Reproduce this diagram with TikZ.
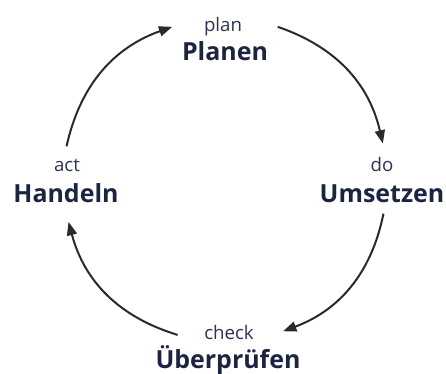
\documentclass[tikz,border=0pt]{standalone}
\usepackage{fontspec}
\setmainfont{Open Sans}
\usepackage{xcolor}
\usepackage{tikz}
\usetikzlibrary{arrows.meta,positioning}

\definecolor{phasecol}{HTML}{1B2440}
\definecolor{subcol}{HTML}{2C3352}
\definecolor{arccol}{HTML}{2A2A2A}

\begin{document}
\begin{tikzpicture}[
    >={Triangle[length=10pt,width=7.5pt]},
    x=0.75pt, y=0.75pt,
    phase/.style={anchor=base,inner sep=0pt,text=phasecol,
                  font=\fontsize{18.7}{20}\selectfont\bfseries},
    sub/.style={anchor=base,inner sep=0pt,text=subcol,
                font=\fontsize{14}{16}\selectfont},
    cycle/.style={->,arccol,line width=1.5pt,bend left=29},
  ]
  \useasboundingbox (0,0) rectangle (446,374);

  % phase names (baselines), the english word sits above each one
  \node[phase] (planen)       at (225,313) {Planen};
  \node[phase] (umsetzen)     at (382,171) {Umsetzen};
  \node[phase] (ueberpruefen) at (228,5)   {Überprüfen};
  \node[phase] (handeln)      at (66,171)  {Handeln};

  \node[sub] (plan)  at (223,342) {plan};
  \node[sub] (do)    at (382,202) {do};
  \node[sub] (check) at (229,34)  {check};
  \node[sub] (act)   at (67,202)  {act};

  % end points of the four arcs, all on one circle round the middle
  \begin{scope}[shift={(225,194)}]
    \coordinate (pu1) at (71:162);
    \coordinate (pu2) at (13:162);
    \coordinate (uc1) at (-12:162);
    \coordinate (uc2) at (-69:162);
    \coordinate (ca1) at (-107:162);
    \coordinate (ca2) at (-165:162);
    \coordinate (ap1) at (168:162);
    \coordinate (ap2) at (109:162);
  \end{scope}

  % --- the cycle ---
  \draw[cycle] (pu1) to (pu2);   % plan -> do
  \draw[cycle] (uc1) to (uc2);   % do -> check
  \draw[cycle] (ca1) to (ca2);   % check -> act
  \draw[cycle] (ap1) to (ap2);   % act -> plan

\end{tikzpicture}
\end{document}
